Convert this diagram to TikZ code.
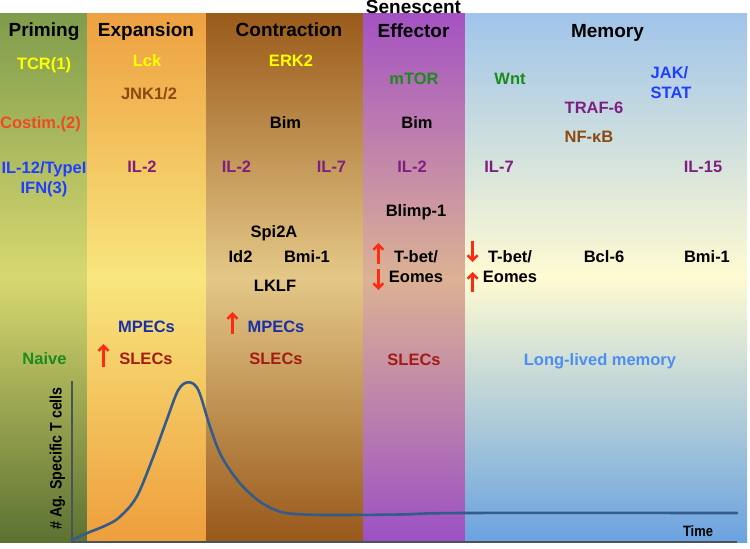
\documentclass[tikz,border=0pt]{standalone}
\usepackage{fontspec}
\setmainfont{Liberation Sans}
\newfontfamily\narrowsans[FakeStretch=0.86]{Liberation Sans}
\usepackage{tikz}
\usetikzlibrary{arrows.meta,positioning}
\definecolor{primtop}{HTML}{7F9C4C}
\definecolor{primmid}{HTML}{D8D870}
\definecolor{primbot}{HTML}{5C7232}
\definecolor{exptop}{HTML}{EEA040}
\definecolor{expmid}{HTML}{F8E67E}
\definecolor{expbot}{HTML}{EE9E3C}
\definecolor{contop}{HTML}{9A5A1A}
\definecolor{conmid}{HTML}{E4C888}
\definecolor{conbot}{HTML}{98581A}
\definecolor{efftop}{HTML}{A452C4}
\definecolor{effmid}{HTML}{DCB294}
\definecolor{effbot}{HTML}{9C50C4}
\definecolor{memtop}{HTML}{A0C4EA}
\definecolor{memmid}{HTML}{FFFBD2}
\definecolor{membot}{HTML}{6AA2E0}
\definecolor{txtyellow}{HTML}{FFFF00}
\definecolor{txtbrown}{HTML}{8B4A12}
\definecolor{txtred}{HTML}{F04A24}
\definecolor{txtblue}{HTML}{1F3FFF}
\definecolor{txtpurple}{HTML}{7E1F80}
\definecolor{txtgreen}{HTML}{1A8C1A}
\definecolor{mpecblue}{HTML}{1A2FA8}
\definecolor{slecred}{HTML}{A31B12}
\definecolor{lightblue}{HTML}{4D8EF2}
\definecolor{arrowred}{HTML}{FF2A12}
\definecolor{curveblue}{HTML}{345C8A}
\definecolor{axisgray}{HTML}{4A525A}
\newcommand{\phaseband}[5]{%
  \shade[top color=#3,bottom color=#4] (#1,13) rectangle (#2,278);
  \shade[top color=#4,bottom color=#5] (#1,277) rectangle (#2,542);}

\begin{document}
\begin{tikzpicture}[
  x=1pt,y=-1pt,
  title/.style={font=\fontsize{19}{24}\selectfont\bfseries,text height=13.6pt,text depth=0pt,inner sep=0pt,align=center},
  lbl/.style={font=\fontsize{16.5}{20.5}\selectfont\bfseries,text height=11.8pt,text depth=0pt,inner sep=0pt,align=center},
  axislbl/.style={font=\narrowsans\fontsize{16.5}{18}\selectfont\bfseries,inner sep=0pt},
  timelbl/.style={font=\narrowsans\fontsize{15}{18}\selectfont\bfseries,inner sep=0pt},
  incarrow/.style={-{Straight Barb[length=5pt,width=10pt]},line width=2.5pt,draw=arrowred},
  decarrow/.style={-{Straight Barb[length=5pt,width=10pt]},line width=2.5pt,draw=arrowred},
  axis/.style={draw=axisgray,line width=2.4pt},
  curve/.style={draw=curveblue,line width=2.6pt,line cap=round}
]
  \useasboundingbox (0,0) rectangle (750,549);
  \phaseband{0}{87.5}{primtop}{primmid}{primbot}
  \phaseband{87}{206.5}{exptop}{expmid}{expbot}
  \phaseband{206}{363.5}{contop}{conmid}{conbot}
  \phaseband{363}{465.5}{efftop}{effmid}{effbot}
  \phaseband{465}{747}{memtop}{memmid}{membot}

  \node[title] (priming) at (44,30) {Priming};
  \node[title] (expansion) at (146,30) {Expansion};
  \node[title] (contraction) at (289,30) {Contraction};
  \node[title] (effector) at (413.5,31) {Senescent\\Effector};
  \node[title] (memory) at (607.5,31) {Memory};

  \node[lbl,txtyellow] (tcr) at (44,64) {TCR(1)};
  \node[lbl,txtyellow] (lck) at (147,61) {Lck};
  \node[lbl,txtyellow] (erk) at (291,61) {ERK2};
  \node[lbl,txtbrown] (jnk) at (149,94) {JNK1/2};
  \node[lbl,txtgreen] (mtor) at (414,79) {mTOR};
  \node[lbl,txtgreen] (wnt) at (510,79) {Wnt};
  \node[lbl,txtblue,align=left] (jak) at (671,93) {JAK/\\STAT};
  \node[lbl,txtpurple] (traf) at (594,108) {TRAF-6};
  \node[lbl,txtred] (costim) at (40.5,123) {Costim.(2)};
  \node[lbl] (bimcon) at (285.5,123) {Bim};
  \node[lbl] (bimeff) at (417,123) {Bim};
  \node[lbl,txtbrown] (nfkb) at (589,137) {NF-κB};
  \node[lbl,txtblue] (ilxii) at (44,188) {IL-12/TypeI\\IFN(3)};
  \node[lbl,txtpurple] (iliiexp) at (142,167) {IL-2};
  \node[lbl,txtpurple] (iliicon) at (236.5,167) {IL-2};
  \node[lbl,txtpurple] (ilviicon) at (331.5,167) {IL-7};
  \node[lbl,txtpurple] (iliieff) at (412,167) {IL-2};
  \node[lbl,txtpurple] (ilviimem) at (499,167) {IL-7};
  \node[lbl,txtpurple] (ilxvmem) at (703,167) {IL-15};
  \node[lbl] (blimp) at (416,211) {Blimp-1};
  \node[lbl] (spi) at (274,232) {Spi2A};
  \node[lbl] (idii) at (240.5,257) {Id2};
  \node[lbl] (bmicon) at (307,257) {Bmi-1};
  \node[lbl] (lklf) at (275,286) {LKLF};
  \node[lbl] (tbeteff) at (416,277) {T-bet/\\Eomes};
  \node[lbl] (tbetmem) at (510,277) {T-bet/\\Eomes};
  \node[lbl] (bcl) at (604,257) {Bcl-6};
  \node[lbl] (bmimem) at (707,257) {Bmi-1};
  \node[lbl,mpecblue] (mpecexp) at (146.5,327) {MPECs};
  \node[lbl,mpecblue] (mpeccon) at (276,327) {MPECs};
  \node[lbl,txtgreen] (naive) at (44.5,359) {Naive};
  \node[lbl,slecred] (slecexp) at (146,359) {SLECs};
  \node[lbl,slecred] (sleccon) at (276,359) {SLECs};
  \node[lbl,slecred] (sleceff) at (414,360) {SLECs};
  \node[lbl,lightblue] (longlived) at (600,360) {Long-lived memory};

  \draw[incarrow] (103.5,367) -- (103.5,344);
  \draw[incarrow] (232.5,334) -- (232.5,312);
  \draw[incarrow] (378.3,264) -- (378.3,243);
  \draw[decarrow] (378.3,269) -- (378.3,290);
  \draw[decarrow] (472.7,241) -- (472.7,262);
  \draw[incarrow] (472.7,292) -- (472.7,272);

  \coordinate (ytop) at (72,381);
  \coordinate (origin) at (72,542);
  \coordinate (xend) at (737,542);
  \draw[axis] (ytop) -- (origin) -- (xend);
  \draw[curve] plot[smooth,tension=0.55] coordinates {
    (72,540) (86.7,533.3) (106.7,525) (120,516.7) (136.7,496.7) (153.3,456.7)
    (166.7,420) (178.3,390) (188.3,382.3) (198.3,390) (210,426.7) (221.7,456.7)
    (240,483.3) (260,501.7) (280,511.7) (300,514.3) (330,515) (400,514.5)
    (463,513) (737,513)};
  \node[axislbl,rotate=90] (ylabel) at (57.5,458.5) {\# Ag. Specific T cells};
  \node[timelbl] (time) at (698,531) {Time};
\end{tikzpicture}
\end{document}
